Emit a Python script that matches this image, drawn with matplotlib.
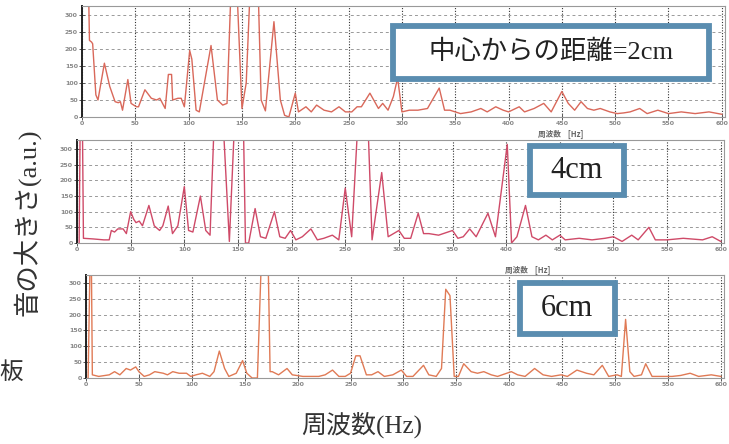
import numpy as np
import matplotlib
matplotlib.use("Agg")
import matplotlib.pyplot as plt
from matplotlib.patches import Rectangle

# spectrum at 2 cm from centre (Hz, amplitude); values above the axis top are clipped
f_2cm = [2, 6, 7, 9, 10, 13, 15, 21, 26, 31, 34, 36, 38, 43, 46, 51, 53, 59, 65, 70,
         73, 78, 81, 84, 85, 90, 93, 96, 101, 103, 107, 110, 121, 127, 132, 136, 140,
         145, 150, 154, 158, 165, 168, 172, 180, 186, 190, 194, 200, 203, 210, 215,
         220, 227, 234, 241, 247, 253, 258, 262, 270, 278, 282, 287, 292, 296, 300,
         307, 315, 324, 335, 340, 345, 355, 365, 374, 380, 388, 395, 400, 410, 415,
         424, 433, 440, 450, 456, 462, 468, 474, 480, 486, 495, 502, 508, 514, 523,
         530, 540, 550, 562, 575, 588, 600]
a_2cm = [400, 400, 225, 220, 215, 65, 50, 158, 90, 45, 42, 45, 20, 110, 40, 30, 30, 80, 55, 50,
         55, 25, 125, 125, 50, 55, 55, 30, 195, 170, 20, 15, 210, 50, 35, 40, 400,
         400, 25, 100, 400, 400, 50, 18, 280, 50, 5, 0, 70, 15, 30, 15,
         35, 20, 15, 30, 15, 15, 30, 30, 70, 25, 40, 20, 60, 115, 15,
         20, 20, 25, 85, 20, 20, 10, 15, 25, 15, 30, 20, 15, 30, 15,
         25, 40, 15, 75, 40, 20, 45, 25, 20, 25, 15, 10, 12, 15, 25,
         10, 20, 10, 15, 10, 15, 8]

# 4 cm
f_4cm = [2, 3, 5, 6, 15, 25, 30, 32, 35, 38, 43, 46, 50, 53, 55, 58, 61, 67, 72, 77,
         80, 85, 89, 94, 100, 104, 108, 115, 120, 124, 128, 136, 142, 147, 155, 157,
         160, 166, 171, 176, 184, 189, 194, 199, 204, 210, 218, 224, 230, 238, 244,
         250, 256, 262, 271, 275, 284, 290, 300, 305, 311, 318, 323, 328, 337, 350,
         355, 360, 366, 372, 383, 390, 401, 405, 410, 418, 424, 430, 437, 443, 450,
         455, 468, 480, 492, 500, 508, 517, 523, 533, 539, 550, 565, 583, 592, 600]
a_4cm = [0, 400, 400, 15, 13, 10, 10, 40, 35, 45, 45, 30, 100, 75, 65, 70, 55, 120, 55, 40,
         55, 118, 30, 55, 180, 40, 35, 150, 40, 25, 400, 400, 5, 400, 400, 0,
         0, 110, 20, 15, 100, 20, 15, 40, 10, 20, 45, 10, 15, 25, 10,
         175, 20, 400, 400, 10, 225, 20, 40, 15, 15, 95, 30, 30, 25, 40,
         15, 20, 45, 20, 95, 20, 315, 0, 20, 120, 20, 10, 25, 10, 25,
         10, 15, 10, 15, 20, 5, 25, 10, 50, 10, 10, 15, 10, 20, 5]

# 6 cm
f_6cm = [2, 4, 5, 6, 12, 22, 27, 32, 38, 42, 47, 50, 55, 60, 65, 73, 77, 82, 88, 95,
         99, 104, 110, 117, 121, 126, 131, 135, 142, 148, 152, 157, 162, 166, 172,
         174, 176, 182, 190, 195, 205, 220, 226, 233, 239, 245, 250, 255, 259, 265,
         270, 276, 282, 290, 298, 303, 309, 319, 324, 331, 336, 340, 344, 348, 352,
         357, 364, 370, 376, 383, 389, 402, 408, 415, 424, 432, 440, 449, 455, 464,
         473, 480, 488, 494, 502, 506, 510, 514, 518, 525, 529, 535, 545, 554, 562,
         571, 579, 591, 600]
a_6cm = [0, 400, 400, 10, 5, 10, 20, 10, 30, 25, 35, 20, 5, 10, 20, 15, 10, 20, 15, 15,
         5, 10, 15, 5, 20, 85, 30, 5, 15, 55, 15, 0, 0, 400, 400,
         20, 20, 10, 30, 10, 5, 5, 10, 25, 5, 5, 15, 70, 70, 10,
         10, 20, 5, 10, 25, 5, 5, 40, 10, 5, 30, 280, 260, 5, 5,
         45, 20, 15, 20, 10, 5, 20, 10, 5, 30, 10, 5, 10, 5, 25,
         15, 10, 40, 5, 10, 5, 185, 20, 5, 10, 45, 5, 5, 5, 8,
         15, 5, 10, 5]

labels = ["中心からの距離=2cm", "4cm", "6cm"]
xticks = list(range(0, 601, 50))
yticks = list(range(0, 301, 50))

W, H = 729, 444
fig = plt.figure(figsize=(W / 100, H / 100), dpi=100)
fig.patch.set_facecolor("white")


def px_axes(left, right, top, bottom):
    return [left / W, 1 - bottom / H, (right - left) / W, (bottom - top) / H]


panels = [
    (f_2cm, a_2cm, "#d9685a", px_axes(82, 725, 6, 117), 326),
    (f_4cm, a_4cm, "#cf4a68", px_axes(77, 724, 140, 243), 329),
    (f_6cm, a_6cm, "#e07a55", px_axes(86, 724, 275, 378), 325),
]

for f, a, col, rect, ytop in panels:
    ax = fig.add_axes(rect)
    ax.plot(f, a, color=col, lw=1.0)
    ax.set_xlim(0, 603)
    ax.set_ylim(0, ytop)
    ax.set_xticks(xticks)
    ax.set_yticks(yticks)
    ax.tick_params(direction="inout", length=4, width=0.7, color="#555",
                   labelsize=4.5, labelcolor="#888", pad=1)
    for lab in ax.get_xticklabels() + ax.get_yticklabels():
        lab.set_fontweight("bold")
    ax.yaxis.grid(True, ls=(0, (3, 3)), color="#999", lw=0.7)
    ax.xaxis.grid(True, ls=(0, (1, 1.5)), color="#333", lw=0.8)
    ax.set_axisbelow(True)
    for s in ["top", "right", "bottom"]:
        ax.spines[s].set_color("#999")
        ax.spines[s].set_linewidth(0.8)
    ax.spines["left"].set_color("#222")
    ax.spines["left"].set_linewidth(1.4)


def ftext(x, y, s, **kw):
    fig.text(x / W, 1 - y / H, s, ha="center", va="center", **kw)


serif_jp = ["Liberation Serif", "Noto Sans CJK JP"]

# small x labels of the original plots
ftext(561, 134, "周波数    [Hz]", fontsize=5.5, color="#666",
      family=["Noto Sans CJK JP"], fontweight="bold")
ftext(528, 270, "周波数    [Hz]", fontsize=5.5, color="#666",
      family=["Noto Sans CJK JP"], fontweight="bold")

# labelled boxes
boxes = [(393, 709, 26, 79, 551, 52, 19), (530, 624, 146, 195, 577, 171, 22),
         (520, 615, 283, 334, 567, 309, 22)]
for (x0, x1, y0, y1, tx, ty, fs), lab in zip(boxes, labels):
    fig.patches.append(Rectangle((x0 / W, 1 - y1 / H), (x1 - x0) / W, (y1 - y0) / H,
                                 transform=fig.transFigure, fc="white",
                                 ec="#5a8db0", lw=4.2, zorder=5))
    ftext(tx, ty, lab, fontsize=fs, color="#222", family=serif_jp, zorder=6)

ftext(27, 222, "音の大きさ(a.u.)", fontsize=19, rotation=90, color="#333",
      family=serif_jp)
ftext(362, 425, "周波数(Hz)", fontsize=18, color="#333", family=serif_jp)
ftext(11, 373, "板", fontsize=17, color="#333", family=serif_jp)

fig.savefig("out.png", dpi=100)
